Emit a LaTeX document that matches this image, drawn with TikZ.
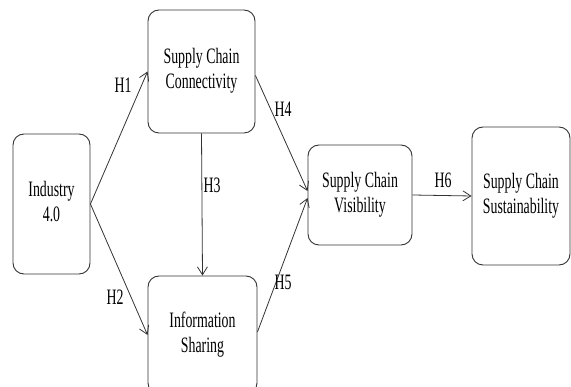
\documentclass[tikz,border=0pt]{standalone}
\usepackage{fontspec}
\usepackage{graphicx}
\setmainfont{Liberation Serif}
\usetikzlibrary{arrows.meta}
\newcommand{\sqz}[1]{\scalebox{0.63}[1]{\begin{tabular}{@{}c@{}}#1\end{tabular}}}
\tikzset{
  boxnode/.style={draw=black!80, line width=0.9pt, rounded corners=11pt, inner sep=0pt,
    font=\fontsize{22}{25}\selectfont},
  link/.style={draw=black!80, line width=0.8pt, -{Straight Barb[length=8pt,width=10pt,line width=0.8pt]}},
  lab/.style={inner sep=0pt, font=\fontsize{22}{25}\selectfont}
}
\begin{document}
\begin{tikzpicture}[x=1pt,y=-1pt]
\useasboundingbox (0,0) rectangle (571,387);
\begin{scope}
\clip (0,0) rectangle (571,387);
\node[boxnode, minimum width=77pt, minimum height=140pt] (ind) at (51.5,204) {\sqz{Industry\\4.0}};
\node[boxnode, minimum width=107pt, minimum height=123pt] (con) at (201.5,71.5) {\sqz{Supply Chain\\Connectivity}};
\node[boxnode, minimum width=109pt, minimum height=118pt] (inf) at (202.5,335) {\sqz{Information\\Sharing}};
\node[boxnode, minimum width=104pt, minimum height=100pt] (vis) at (360,195) {\sqz{Supply Chain\\Visibility}};
\node[boxnode, minimum width=98pt, minimum height=138pt] (sus) at (521,196) {\sqz{Supply Chain\\Sustainability}};

\draw[link] (ind.east) -- (con.west);
\draw[link] (ind.east) -- (inf.west);
\draw[link] (con.south) -- (inf.north);
\draw[link] ([yshift=-4pt]con.east) -- ([yshift=4pt]vis.west);
\draw[link] ([yshift=3pt]inf.east) -- ([yshift=-3pt]vis.west);
\draw[link] (vis.east) -- (sus.west);

\node[lab] (h1) at (123,88) {\sqz{H1}};
\node[lab] (h2) at (115,300) {\sqz{H2}};
\node[lab] (h3) at (212,188) {\sqz{H3}};
\node[lab] (h4) at (283,112) {\sqz{H4}};
\node[lab] (h5) at (283,285) {\sqz{H5}};
\node[lab] (h6) at (443,183) {\sqz{H6}};
\end{scope}
\end{tikzpicture}
\end{document}
